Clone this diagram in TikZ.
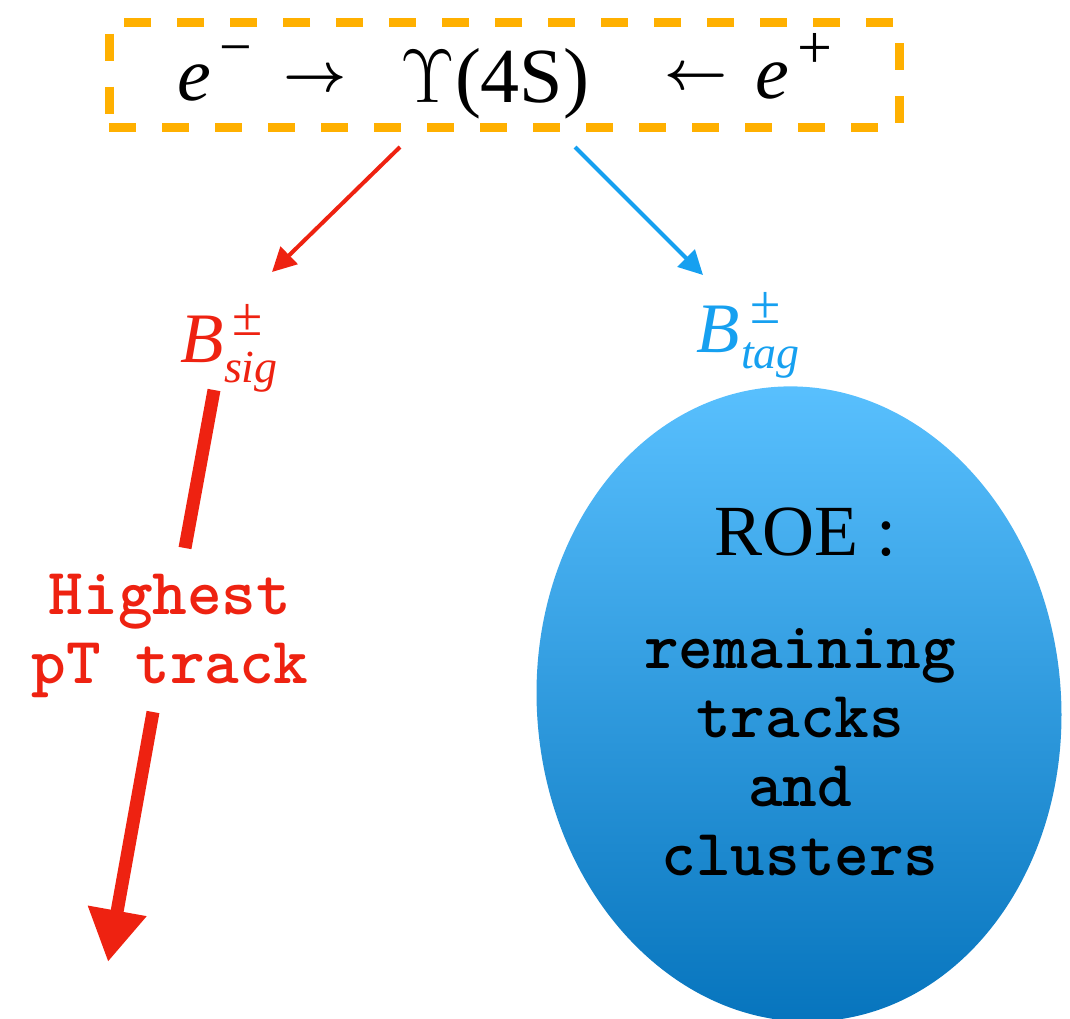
\RequirePackage{fix-cm}
\documentclass[tikz,border=0pt]{standalone}
\usepackage[no-math]{fontspec}
\setmainfont{Liberation Serif}
\usetikzlibrary{arrows.meta,shapes.geometric}
\definecolor{orng}{RGB}{255,176,0}
\definecolor{redc}{RGB}{238,34,17}
\definecolor{bluec}{RGB}{22,160,240}
\definecolor{bltop}{RGB}{90,193,255}
\definecolor{blbot}{RGB}{5,115,188}
\begin{document}
\begin{tikzpicture}[x=1pt,y=-1pt,
  txt/.style={inner sep=0pt,outer sep=0pt},
  big/.style={txt,font=\fontsize{78}{80}\selectfont},
  ee/.style={txt,font=\fontsize{76}{78}\selectfont\itshape},
  sup/.style={txt,font=\fontsize{58}{60}\selectfont},
  arr/.style={txt,font=\fontsize{55}{57}\selectfont\boldmath},
  bb/.style={txt,font=\fontsize{71}{73}\selectfont\itshape},
  pm/.style={txt,font=\fontsize{55}{57}\selectfont},
  sub/.style={txt,font=\fontsize{46}{48}\selectfont\itshape},
  mono/.style={txt,align=center,font=\fontsize{66}{69}\selectfont\ttfamily\bfseries},
  thinarrow/.style={line width=4pt,-{Triangle[length=24pt,width=24pt]}},
  thickline/.style={line width=13pt,redc}
]
\useasboundingbox (0,0) rectangle (1070,1018);
\clip (0,0) rectangle (1070,1018);
% top box
\node[draw=orng,line width=9pt,dash pattern=on 27pt off 26pt,minimum width=790pt,minimum height=105pt] (box) at (504,75) {};
\node[ee,anchor=base west] (e1) at (177,100) {e};
\node[sup,anchor=base west] (m1) at (219,66) {−};
\node[arr,anchor=base west] (r1) at (283,91) {$\rightarrow$};
\node[txt,anchor=base west,font=\fontsize{76}{78}\selectfont] (ups) at (400,102) {$\Upsilon$};
\node[big,anchor=base west] (fs) at (455,102) {(4S)};
\node[arr,anchor=base west] (l1) at (664,89) {$\leftarrow$};
\node[ee,anchor=base west] (e2) at (755,98) {e};
\node[txt,anchor=base west,font=\fontsize{62}{64}\selectfont] (p1) at (797,68) {+};
% B labels
\node[bb,anchor=base west,text=redc] (bs) at (180,362) {B};
\node[pm,anchor=base west,text=redc] (bsp) at (232,335) {±};
\node[sub,anchor=base west,text=redc] (bsb) at (224,382) {sig};
\node[bb,anchor=base west,text=bluec] (bt) at (696,352) {B};
\node[pm,anchor=base west,text=bluec] (btp) at (750,323) {±};
\node[sub,anchor=base west,text=bluec] (btb) at (741,368) {tag};
% thin arrows
\coordinate (rs) at (400,147);
\coordinate (re) at (272,272);
\coordinate (bs0) at (575,147);
\coordinate (be) at (703,275);
\draw[thinarrow,draw=redc,fill=redc] (rs) -- (re);
\draw[thinarrow,draw=bluec,fill=bluec] (bs0) -- (be);
% signal side
\node[mono,text=redc] (hp) at (170,636) {Highest\\pT track};
\coordinate (t1) at (214,390);
\coordinate (t2) at (185,548);
\coordinate (t3) at (153,712);
\coordinate (t4) at (108,962);
\draw[thickline] (t1) -- (t2);
\draw[thickline,-{Triangle[length=52pt,width=56pt]}] (t3) -- (t4);
% ROE ellipse
\node[ellipse,minimum width=524pt,minimum height=636pt,rotate=5,top color=bltop,bottom color=blbot,inner sep=0pt] (roe) at (799,704) {};
\node[txt,anchor=base,font=\fontsize{72}{74}\selectfont] (roet) at (805,555) {ROE :};
\node[mono,text=black] (roel) at (800,752) {remaining\\tracks\\and\\clusters};
\end{tikzpicture}
\end{document}
